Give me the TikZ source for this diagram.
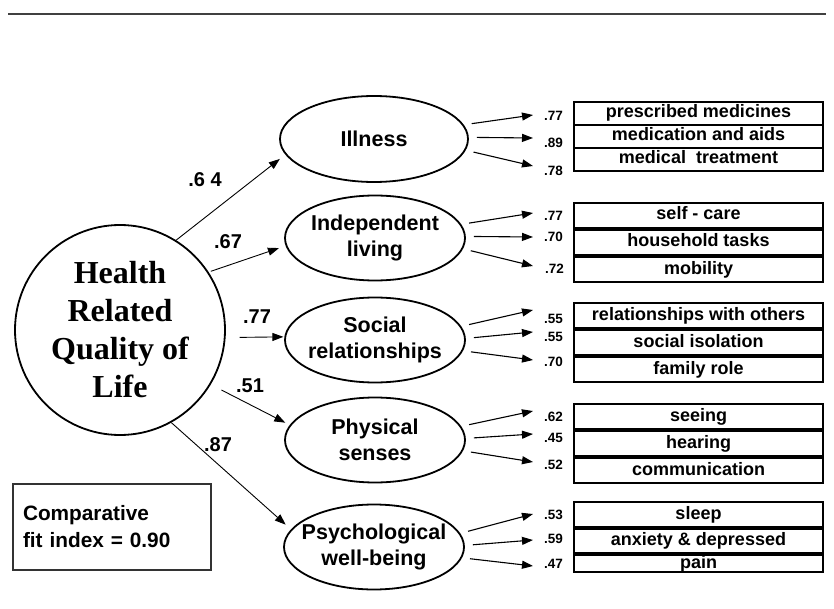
\documentclass[tikz,border=0pt]{standalone}
\usepackage{fontspec}
\setmainfont{Liberation Serif}
\setsansfont{Liberation Sans}
\usetikzlibrary{shapes.geometric,arrows.meta}

\tikzset{
  latent/.style={ellipse, draw, line width=1.8pt, minimum width=180pt, minimum height=85pt,
    inner xsep=-10pt, inner ysep=0pt, align=center,
    font=\sffamily\bfseries\fontsize{21.5}{26}\selectfont},
  bigcirc/.style={circle, draw, line width=1.8pt, minimum size=210pt, inner sep=0pt, align=center,
    font=\rmfamily\bfseries\fontsize{32}{38}\selectfont},
  indbox/.style={rectangle, draw, line width=1.1pt, minimum width=249pt, inner sep=0pt,
    text height=12.5pt, text depth=3.5pt, font=\sffamily\bfseries\fontsize{18}{20}\selectfont},
  coef/.style={inner sep=0pt, font=\sffamily\bfseries\fontsize{20}{22}\selectfont},
  load/.style={inner sep=0pt, anchor=west, font=\sffamily\bfseries\fontsize{13.5}{15}\selectfont},
  patharrow/.style={line width=0.9pt, -{Triangle[length=11pt,width=8pt]}, shorten >=7pt},
  loadarrow/.style={line width=1.1pt, -{Triangle[length=11pt,width=8pt]}, shorten <=8pt},
  fitbox/.style={rectangle, draw=black!80, line width=1.1pt, text width=178pt, align=left,
    inner xsep=10pt, minimum height=86pt, font=\sffamily\bfseries\fontsize{20.8}{27}\selectfont}
}

\begin{document}
\begin{tikzpicture}[x=1pt,y=-1pt]
\useasboundingbox (0,0) rectangle (834,609);

\draw[line width=2pt, black!75] (8,14) -- (826,14);

% model
\node[bigcirc] (hrql) at (120,330) {Health\\Related\\Quality of\\Life};

\node[latent, minimum width=188pt, minimum height=86pt] (ill) at (374,139) {Illness};
\node[latent] (ind) at (375,238) {Independent\\living};
\node[latent] (soc) at (375,340) {Social\\relationships};
\node[latent] (phy) at (375,440) {Physical\\senses};
\node[latent] (psy) at (374,547) {Psychological\\well-being};

\draw[patharrow] (hrql.58) -- (ill.190);
\draw[patharrow] ([shift={(2pt,1pt)}]hrql.33) -- (ind.185);
\draw[patharrow, shorten >=1pt] ([xshift=14pt]hrql.-4) -- (soc.178);
\draw[patharrow, shorten <=12pt, shorten >=5pt] (hrql.-31) -- (phy.170);
\draw[patharrow] (hrql.-61) -- (psy.168);

\node[coef] (c1) at (205,180) {.6 4};
\node[coef] (c2) at (228,242) {.67};
\node[coef] (c3) at (257,317) {.77};
\node[coef] (c4) at (250,386) {.51};
\node[coef] (c5) at (218,445) {.87};

% illness
\node[indbox, minimum height=23pt] (b11) at (698.5,113.5) {prescribed medicines};
\node[indbox, minimum height=23pt] (b12) at (698.5,136.5) {medication and aids};
\node[indbox, minimum height=23pt] (b13) at (698.5,159.5) {medical\ \ treatment};
\node[load] (l11) at (544,116) {.77};
\node[load] (l12) at (544,143) {.89};
\node[load] (l13) at (544,171) {.78};
\draw[loadarrow] (ill.9) -- ([xshift=-11pt,yshift=1pt]l11.west);
\draw[loadarrow] (ill.1) -- ([xshift=-11pt,yshift=5pt]l12.west);
\draw[loadarrow] (ill.-7) -- ([xshift=-11pt,yshift=5pt]l13.west);

% independent living
\node[indbox, minimum height=25pt] (b21) at (698.5,215.5) {self - care};
\node[indbox, minimum height=25pt] (b22) at (698.5,242.5) {household tasks};
\node[indbox, minimum height=25pt] (b23) at (698.5,269.5) {mobility};
\node[load] (l21) at (544,216) {.77};
\node[load] (l22) at (544,237) {.70};
\node[load] (l23) at (545,269) {.72};
\draw[loadarrow] (ind.9) -- ([xshift=-11pt,yshift=3pt]l21.west);
\draw[loadarrow] (ind.1) -- ([xshift=-11pt]l22.west);
\draw[loadarrow] (ind.-7) -- ([xshift=-12pt,yshift=3pt]l23.west);

% social relationships
\node[indbox, minimum height=25pt] (b31) at (698.5,315.5) {relationships with others};
\node[indbox, minimum height=25pt] (b32) at (698.5,342.5) {social isolation};
\node[indbox, minimum height=25pt] (b33) at (698.5,369.5) {family role};
\node[load] (l31) at (544,319) {.55};
\node[load] (l32) at (544,337) {.55};
\node[load] (l33) at (544,362) {.70};
\draw[loadarrow] (soc.9) -- ([xshift=-11pt,yshift=9pt]l31.west);
\draw[loadarrow] (soc.1) -- ([xshift=-11pt,yshift=5pt]l32.west);
\draw[loadarrow] (soc.-7) -- ([xshift=-11pt,yshift=2pt]l33.west);

% physical senses
\node[indbox, minimum height=25pt] (b41) at (698.5,416.5) {seeing};
\node[indbox, minimum height=25pt] (b42) at (698.5,443.5) {hearing};
\node[indbox, minimum height=25pt] (b43) at (698.5,470.5) {communication};
\node[load] (l41) at (544,417) {.62};
\node[load] (l42) at (544,438) {.45};
\node[load] (l43) at (544,465) {.52};
\draw[loadarrow] (phy.9) -- ([xshift=-11pt,yshift=6pt]l41.west);
\draw[loadarrow] (phy.1) -- ([xshift=-11pt,yshift=4pt]l42.west);
\draw[loadarrow] (phy.-7) -- ([xshift=-11pt,yshift=3pt]l43.west);

% psychological well-being
\node[indbox, minimum height=25pt] (b51) at (698.5,514.5) {sleep};
\node[indbox, minimum height=24pt] (b52) at (698.5,541) {anxiety \& depressed};
\node[indbox, minimum height=17pt] (b53) at (698.5,563.5) {pain};
\node[load] (l51) at (544,515) {.53};
\node[load] (l52) at (544,539) {.59};
\node[load] (l53) at (544,564) {.47};
\draw[loadarrow] (psy.9) -- ([xshift=-11pt,yshift=1pt]l51.west);
\draw[loadarrow] (psy.1) -- ([xshift=-11pt,yshift=-1pt]l52.west);
\draw[loadarrow] (psy.-7) -- ([xshift=-11pt,yshift=-2pt]l53.west);

\node[fitbox] (cfi) at (112,527) {Comparative\\fit index = 0.90};

\end{tikzpicture}
\end{document}
